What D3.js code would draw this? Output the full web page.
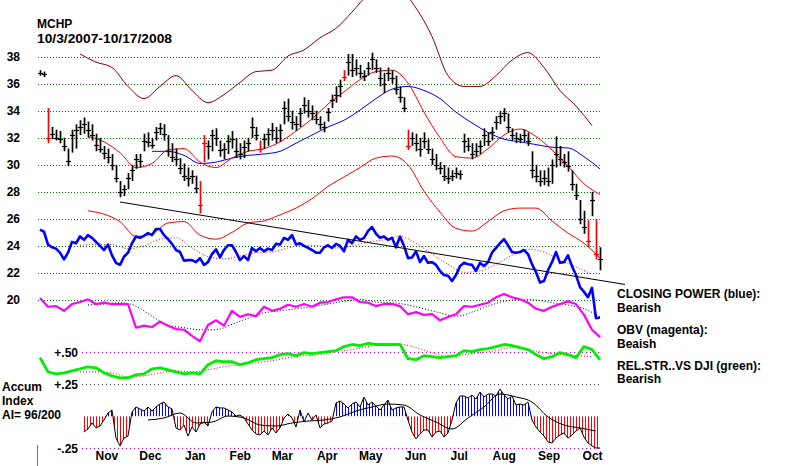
<!DOCTYPE html>
<html><head><meta charset="utf-8">
<script src="https://cdn.jsdelivr.net/npm/d3@7"></script>
<style>
body{margin:0;background:#fff;}
svg{display:block;}
text{font-family:"Liberation Sans",Arial,sans-serif;font-weight:bold;font-size:12px;fill:#000;}
</style></head><body>
<svg id="c" width="800" height="466"></svg>
<script>
// ---------------- DATA ----------------
const ticker = "MCHP";
const dateRange = "10/3/2007-10/17/2008";
const priceTicks = [20,22,24,26,28,30,32,34,36,38];
const lowerTicks = [0.5,0.25,-0.25];
const lowerTickLabels = ["+.50","+.25","-.25"];
const legendLines = ["CLOSING POWER (blue):","Bearish","OBV (magenta):","Beaish","REL.STR..VS DJI (green):","Bearish"];
const accumLabels = ["Accum","Index","AI= 96/200"];

// daily-ish price bars (index 0..140)
const barHigh = [37.0,36.9,34.2,32.8,32.6,32.5,32.0,31.2,32.6,33.0,
 33.3,33.5,33.2,33.0,32.3,32.0,31.4,31.2,30.8,30.0,
 28.8,28.5,29.4,30.0,30.8,30.8,32.3,32.4,32.0,32.8,
 33.1,33.0,32.2,31.6,31.2,30.5,30.1,29.8,29.6,29.2,
 28.8,32.2,31.8,32.6,32.7,31.8,31.6,32.2,32.5,32.0,
 31.6,31.8,32.0,33.5,32.8,31.8,32.3,32.7,33.1,32.8,
 33.0,34.7,34.9,34.0,33.6,34.2,35.0,34.8,34.4,34.0,
 33.6,33.2,34.2,35.2,35.8,36.3,37.0,38.2,38.2,37.8,
 37.4,37.0,37.6,38.3,37.8,37.2,36.8,37.2,37.0,36.6,
 35.8,35.0,32.6,32.4,32.3,32.0,32.4,31.9,31.2,30.8,
 30.2,30.0,29.8,29.6,29.8,29.6,32.3,32.0,31.6,31.6,
 31.8,32.7,32.4,32.8,33.6,34.0,34.2,33.8,32.7,32.4,
 32.3,32.6,32.4,31.0,30.0,29.6,29.6,29.8,30.4,32.1,
 31.4,30.8,31.0,29.6,28.6,27.4,26.6,25.9,28.0,26.0,
 23.9];
const barLow = [36.6,36.5,31.6,31.9,31.8,31.6,31.0,29.9,30.9,31.2,
 32.2,32.3,32.0,31.8,31.0,30.9,30.4,30.1,29.6,28.7,
 27.6,27.7,28.2,28.8,29.7,29.8,31.0,31.3,31.2,31.8,
 32.2,31.8,30.6,30.2,29.9,29.3,28.8,28.4,28.6,27.9,
 26.4,30.2,30.4,31.0,31.4,30.6,30.4,30.8,31.2,30.5,
 30.4,30.5,31.0,32.0,31.8,30.9,31.2,31.4,31.8,31.6,
 31.7,33.0,33.2,32.6,32.5,32.8,33.8,33.5,33.3,33.0,
 32.6,32.4,33.2,34.2,34.6,35.0,36.2,36.6,36.5,36.6,
 36.4,36.2,36.6,37.0,36.8,35.8,35.3,36.2,36.0,35.2,
 34.6,33.9,31.1,31.4,31.0,30.6,31.2,30.8,30.0,29.6,
 29.3,28.8,28.6,28.8,29.0,28.9,30.9,31.0,30.4,30.6,
 30.8,31.4,31.4,31.8,32.6,33.0,33.2,32.4,31.8,31.6,
 31.6,31.7,31.4,29.0,28.7,28.4,28.5,28.4,28.6,29.8,
 29.9,29.8,29.5,28.1,27.4,25.6,24.9,23.9,26.2,23.0,
 22.2];
const barClose = [36.8,36.7,32.0,32.3,32.0,31.9,31.4,30.3,32.2,32.6,
 32.8,33.0,32.6,32.2,31.5,31.2,30.9,30.6,30.0,29.0,
 28.0,28.2,29.0,29.6,30.4,30.3,31.8,31.7,31.5,32.4,
 32.7,32.3,31.0,30.6,30.4,29.8,29.2,29.0,29.2,28.3,
 27.0,31.6,31.4,32.2,32.0,31.1,31.2,31.8,31.9,31.0,
 30.8,31.3,31.6,32.8,32.2,31.2,31.9,32.3,32.6,32.0,
 32.6,34.2,33.6,33.2,33.0,33.8,34.4,34.0,33.8,33.4,
 33.0,32.8,33.9,34.8,35.2,35.8,36.5,37.6,37.0,37.2,
 36.8,36.6,37.2,37.8,37.2,36.4,36.0,36.8,36.4,35.6,
 35.0,34.2,31.4,32.0,31.6,31.2,31.8,31.2,30.4,30.0,
 29.8,29.2,29.0,29.2,29.4,29.3,31.8,31.4,30.8,31.0,
 31.4,32.2,31.8,32.4,33.2,33.6,33.8,32.8,32.2,32.0,
 31.9,32.2,31.8,29.6,29.2,28.8,29.0,28.8,30.0,30.8,
 30.4,30.2,29.9,28.6,27.8,26.0,25.4,24.4,27.4,23.4,
 23.0];
const redBars = [2,40,41,55,76,92,137,139];

// moving averages and bands (start index, step 4)
const ma21Start = 12;
const ma21 = [32.1,31.7,30.9,29.8,30.1,31.1,31.2,30.2,29.8,30.5,31.0,31.2,31.7,32.5,33.4,34.5,35.4,36.3,36.9,37.0,36.05,33.9,32.0,30.6,30.5,31.2,32.2,32.65,32.1,31.1,29.9,28.6,27.8];
const ma50Start = 28;
const ma50 = [31.0,31.0,30.7,30.1,30.2,30.5,30.7,30.8,31.0,31.6,32.2,32.8,33.3,34.05,34.9,35.6,35.8,35.5,34.9,33.9,33.1,32.4,31.9,31.7,31.5,31.3,31.25,30.6,29.7];
const upperStart = 10;
const upperBand = [38.2,37.6,37.2,35.8,34.9,35.8,36.6,35.5,34.6,35.2,36.1,36.9,37.0,38.05,38.5,39.4,40.1,41.3,42.6,43.3,43.0,41.6,39.5,36.6,35.8,35.8,36.6,37.75,38.3,37.2,35.5,34.35,32.9];
const lowerStart = 12;
const lowerBand = [26.6,26.35,25.8,24.7,24.9,25.7,25.8,24.8,24.5,25.0,25.7,25.85,26.3,26.8,27.5,28.4,29.1,29.8,30.5,30.65,30.0,28.05,26.5,25.3,25.1,25.8,26.6,26.8,26.8,25.85,24.95,24.2,23.1];

// Closing Power (blue), every bar
const closingPower = [25.2,25.05,24.1,23.9,23.8,23.5,23.0,23.5,24.3,24.2,
 24.7,24.45,24.8,24.6,24.3,24.0,23.7,24.1,23.3,22.75,
 22.6,23.2,23.5,24.2,24.7,24.6,24.75,24.95,24.8,25.25,
 25.25,24.8,24.5,24.15,23.7,23.55,22.9,22.95,22.95,22.8,
 23.1,22.6,22.8,23.4,23.75,23.15,23.7,24.05,24.05,23.55,
 22.95,23.25,22.95,23.85,23.6,23.85,23.6,23.8,23.7,24.15,
 24.1,24.6,24.45,24.8,24.1,24.2,24.0,23.85,23.7,23.5,
 23.5,23.9,24.05,23.85,24.15,24.0,23.6,24.45,24.2,24.7,
 24.45,24.6,25.1,25.4,24.9,24.6,24.7,24.45,24.6,23.9,
 24.7,24.0,23.1,23.15,23.6,22.8,23.25,22.75,22.8,22.6,
 22.15,21.85,21.8,21.4,21.85,22.5,22.75,22.65,22.6,22.15,
 22.75,22.5,22.8,23.5,23.85,24.2,24.5,24.05,23.55,23.5,
 23.55,23.7,23.4,22.65,22.05,21.3,21.4,22.2,22.8,23.55,
 22.75,22.8,23.3,22.5,21.85,20.95,20.6,20.2,20.9,18.65,
 18.7];
const cpMaStart = 10;
const cpMa = [24.05,24.1,24.1,23.8,24.0,24.5,24.6,23.85,23.2,23.05,23.25,23.5,23.55,23.85,24.05,24.0,23.85,24.0,24.3,24.45,24.7,24.2,23.4,22.65,22.05,22.15,22.65,23.3,23.75,23.55,22.95,22.45,21.9];

// OBV (magenta), every 2nd bar
const obv = [20.15,19.5,19.55,19.2,19.7,19.85,20.05,19.7,19.8,19.7,
 19.7,19.7,17.95,18.1,18.0,18.4,18.1,17.85,17.8,17.35,
 16.95,18.15,18.5,18.1,19.2,18.75,18.95,18.8,19.5,19.2,
 19.35,19.65,19.5,19.7,19.5,19.8,19.85,20.05,20.2,20.2,
 19.85,19.8,19.55,19.7,19.7,19.55,18.95,19.1,18.9,18.95,
 18.5,18.75,18.95,19.55,19.5,19.65,19.8,20.2,20.45,20.2,
 20.05,19.8,19.35,19.2,19.5,19.7,19.9,19.7,18.9,17.8,
 17.25];
const obvMaStart = 12;
const obvMa = [19.63,19.7,19.8,19.55,18.8,18.15,17.95,17.8,17.8,18.2,18.65,19.05,19.2,19.35,19.5,19.7,19.9,20.05,19.85,19.8,19.63,19.35,19.05,18.8,19.1,19.55,19.9,20.05,20.0,19.8,19.63,19.35,18.75];

// Relative strength vs DJI (green), every 2nd bar
const relStr = [0.458,0.347,0.331,0.339,0.355,0.371,0.387,0.379,0.339,0.316,
 0.30,0.30,0.324,0.331,0.371,0.379,0.363,0.347,0.331,0.339,
 0.331,0.403,0.434,0.426,0.426,0.403,0.418,0.442,0.45,0.458,
 0.482,0.49,0.474,0.498,0.49,0.498,0.506,0.513,0.545,0.561,
 0.553,0.569,0.561,0.561,0.561,0.561,0.45,0.442,0.474,0.466,
 0.458,0.466,0.474,0.513,0.506,0.521,0.529,0.545,0.561,0.553,
 0.537,0.521,0.482,0.45,0.466,0.498,0.482,0.458,0.545,0.521,
 0.442];
const relStrMaStart = 10;
const relStrMa = [0.347,0.347,0.339,0.308,0.316,0.339,0.355,0.347,0.363,0.387,0.403,0.418,0.434,0.458,0.474,0.482,0.506,0.521,0.545,0.561,0.561,0.537,0.498,0.466,0.482,0.498,0.513,0.537,0.521,0.498,0.482,0.474,0.466];

// Accumulation index, every bar from index 11
const accumStart = 11;
const accum = [-0.123,-0.099,-0.052,-0.091,-0.076,-0.029,0.026,0.049,-0.170,-0.232,
 -0.170,-0.154,0.034,0.073,0.057,0.041,0.073,0.041,0.073,0.096,
 0.112,0.073,0.057,-0.091,-0.107,-0.068,-0.154,-0.084,-0.123,-0.060,
 -0.045,-0.076,0.034,0.073,0.065,0.065,0.049,0.034,0.002,0.010,
 -0.013,-0.060,-0.107,-0.138,-0.146,-0.115,-0.146,-0.091,-0.130,-0.091,
 -0.013,0.018,-0.013,-0.084,0.049,-0.045,0.026,-0.029,0.010,-0.091,
 -0.060,-0.052,-0.037,0.104,0.120,0.096,0.065,0.096,0.112,0.073,
 0.151,0.088,0.112,0.080,0.049,0.088,0.127,0.049,0.065,0.073,
 0.073,-0.029,-0.123,-0.177,-0.138,-0.107,-0.107,-0.162,-0.123,-0.115,
 -0.162,-0.130,-0.029,0.104,0.159,0.159,0.143,0.166,0.135,0.190,
 0.151,0.174,0.174,0.159,0.213,0.166,0.135,0.159,0.088,0.096,
 0.088,0.112,-0.029,-0.084,-0.123,-0.154,-0.201,-0.209,-0.170,-0.146,
 -0.130,-0.170,-0.146,-0.115,-0.091,-0.162,-0.209,-0.232,-0.248,-0.248];
const accumMaStart = 27;
const accumMa = [-0.029,-0.013,0.026,-0.052,-0.045,0.002,-0.013,-0.068,-0.076,-0.052,-0.037,-0.029,-0.005,0.041,0.073,0.096,0.088,0.010,-0.045,-0.099,-0.013,0.073,0.174,0.151,0.112,-0.005,-0.068,-0.091,-0.115];

// support trendline (bar index, price)
const trendIdx = [20,146.25];
const trendVal = [27.25,21.15];

// ---------------- DRAW ----------------
const svg = d3.select("#c");
const W = 800, H = 466;
const x = d3.scaleLinear().domain([0,140]).range([40,600]);
const xT = d3.scaleTime().domain([new Date(2007,9,3), new Date(2008,9,17)]).range([44,595]);
const yP = d3.scaleLinear().domain([20,38]).range([300,56.7]);
const yL = d3.scaleLinear().domain([-0.25,0.5]).range([448.3,352.3]);
const crisp = v => Math.round(v) + 0.5;
const series = (vals, start, step) => vals.map((v,i) => [start + i*step, v]);

const defs = svg.append("defs");
function stripe(id, color){
  const p = defs.append("pattern").attr("id", id).attr("patternUnits","userSpaceOnUse")
    .attr("width",3).attr("height",8);
  p.append("rect").attr("x",0).attr("y",0).attr("width",1).attr("height",8).attr("fill",color);
}
stripe("stripeBlue","#0000ff");
stripe("stripeRed","#ff0000");
defs.append("clipPath").attr("id","clipPos").append("rect")
  .attr("x",0).attr("y",0).attr("width",W).attr("height",yL(0));
defs.append("clipPath").attr("id","clipNeg").append("rect")
  .attr("x",0).attr("y",yL(0)).attr("width",W).attr("height",H-yL(0));

// gridlines
svg.append("g").selectAll("line").data(priceTicks).join("line")
  .attr("x1",38).attr("x2",600)
  .attr("y1",d=>crisp(yP(d))).attr("y2",d=>crisp(yP(d)))
  .attr("stroke","#008000").attr("stroke-width",1).attr("stroke-dasharray","1,2");
const lowerGridColors = ["#c000c0","#404040","#c000c0"];
svg.append("g").selectAll("line").data(lowerTicks).join("line")
  .attr("x1",82).attr("x2",600)
  .attr("y1",d=>crisp(yL(d))).attr("y2",d=>crisp(yL(d)))
  .attr("stroke",(d,i)=>lowerGridColors[i]).attr("stroke-width",1).attr("stroke-dasharray","1,3");

// axes
const yAxis = d3.axisLeft(yP).tickValues(priceTicks).tickSize(0).tickPadding(0).tickFormat(d3.format("d"));
const gy = svg.append("g").attr("transform","translate(20,0)").call(yAxis);
gy.select(".domain").remove();
gy.selectAll("text").style("font-size","12px").style("font-weight","bold").attr("fill","#000");

const lAxis = d3.axisLeft(yL).tickValues(lowerTicks).tickSize(0).tickPadding(0)
  .tickFormat((d,i)=>lowerTickLabels[i]);
const gl = svg.append("g").attr("transform","translate(78,0)").call(lAxis);
gl.select(".domain").remove();
gl.selectAll("text").style("font-size","12px").style("font-weight","bold").attr("fill","#000");

const monthTicks = d3.range(12).map(i => new Date(2007, 10 + i, 15));
const xAxis = d3.axisBottom(xT).tickValues(monthTicks).tickSize(0).tickPadding(3)
  .tickFormat(d3.timeFormat("%b"));
const gx = svg.append("g").attr("transform","translate(0,448)").call(xAxis);
gx.select(".domain").remove();
gx.selectAll("text").style("font-size","12px").style("font-weight","bold").attr("fill","#000");

// line helpers
const lineP = d3.line().x(d=>x(d[0])).y(d=>yP(d[1]));
const smoothP = d3.line().x(d=>x(d[0])).y(d=>yP(d[1])).curve(d3.curveMonotoneX);
const lineL = d3.line().x(d=>x(d[0])).y(d=>yL(d[1]));
const smoothL = d3.line().x(d=>x(d[0])).y(d=>yL(d[1])).curve(d3.curveMonotoneX);
function path(gen, data, color, width, dash){
  const p = svg.append("path").attr("d", gen(data)).attr("fill","none")
    .attr("stroke",color).attr("stroke-width",width).attr("stroke-linejoin","round");
  if (dash) p.attr("stroke-dasharray", dash);
  return p;
}

// bands and moving averages
path(smoothP, series(upperBand, upperStart, 4), "#900000", 1);
path(smoothP, series(lowerBand, lowerStart, 4), "#ff0000", 1);
path(smoothP, series(ma50, ma50Start, 4), "#0000ff", 1);
path(smoothP, series(ma21, ma21Start, 4), "#ff0000", 1);

// price bars
const bars = barHigh.map((h,i)=>({i, h, l:barLow[i], c:barClose[i], red: redBars.includes(i)}));
const gb = svg.append("g");
gb.selectAll("line.hl").data(bars).join("line").attr("class","hl")
  .attr("x1",d=>crisp(x(d.i))).attr("x2",d=>crisp(x(d.i)))
  .attr("y1",d=>yP(d.h)).attr("y2",d=>yP(d.l))
  .attr("stroke",d=>d.red?"#ff0000":"#000").attr("stroke-width",1.7);
gb.selectAll("line.cl").data(bars).join("line").attr("class","cl")
  .attr("x1",d=>crisp(x(d.i))-2.5).attr("x2",d=>crisp(x(d.i))+2.5)
  .attr("y1",d=>crisp(yP(d.c))).attr("y2",d=>crisp(yP(d.c)))
  .attr("stroke",d=>d.red?"#ff0000":"#000").attr("stroke-width",1.2);

// indicators
path(smoothP, series(cpMa, cpMaStart, 4), "#ff0000", 1, "1,2");
path(lineP, series(closingPower, 0, 1), "#0000ff", 2.6);
path(lineP, trendIdx.map((k,i)=>[k, trendVal[i]]), "#000", 1);
path(smoothP, series(obvMa, obvMaStart, 4), "#000", 1, "1,2");
path(lineP, series(obv, 0, 2), "#ff00ff", 2.2);
path(smoothL, series(relStrMa, relStrMaStart, 4), "#ff0000", 1, "1,2");
path(lineL, series(relStr, 0, 2), "#00ee00", 2.8);

// accumulation histogram
const acc = series(accum, accumStart, 1);
const area = d3.area().x(d=>x(d[0])).y0(yL(0)).y1(d=>yL(d[1]));
svg.append("path").attr("d", area(acc)).attr("fill","url(#stripeBlue)").attr("clip-path","url(#clipPos)");
svg.append("path").attr("d", area(acc)).attr("fill","url(#stripeRed)").attr("clip-path","url(#clipNeg)");
path(lineL, acc, "#000", 1);
path(smoothL, series(accumMa, accumMaStart, 4), "#000", 1);

// marker at left bottom
svg.append("line").attr("x1",37.5).attr("x2",37.5).attr("y1",445).attr("y2",466)
  .attr("stroke","#808000").attr("stroke-width",1);

// texts
svg.append("text").attr("x",37).attr("y",28).text(ticker);
svg.append("text").attr("x",37).attr("y",43).style("font-size","13px")
  .attr("textLength",135).attr("lengthAdjust","spacingAndGlyphs").text(dateRange);
const legendY = [298,312,334,348,370,383];
svg.append("g").selectAll("text").data(legendLines).join("text")
  .attr("x",617).attr("y",(d,i)=>legendY[i]).text(d=>d);
const accumY = [391,405,419];
svg.append("g").selectAll("text").data(accumLabels).join("text")
  .attr("x",2).attr("y",(d,i)=>accumY[i]).text(d=>d);
</script>
</body></html>
